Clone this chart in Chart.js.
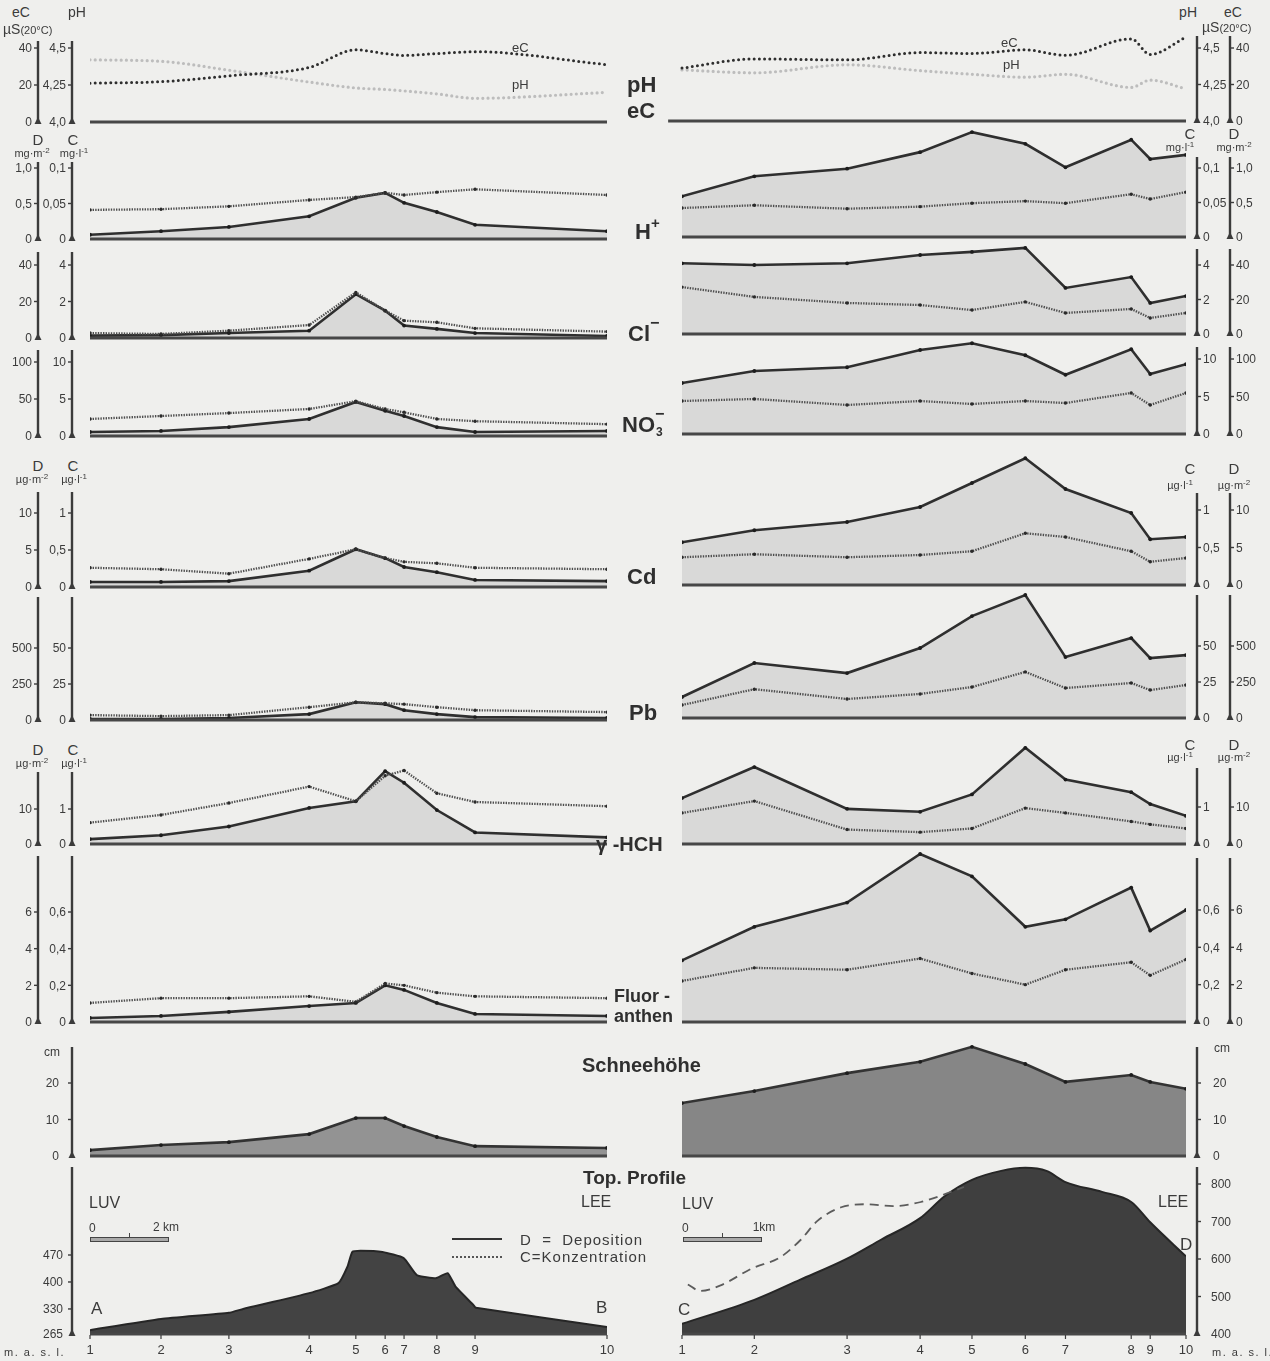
<!DOCTYPE html>
<html lang="de">
<head>
<meta charset="utf-8">
<title>Schneeprofile A–B und C–D</title>
<script src="https://cdn.jsdelivr.net/npm/chart.js@4.4.1/dist/chart.umd.min.js"></script>
<style>
  html, body { margin: 0; padding: 0; background: #efefed; }
  #page { position: relative; width: 1270px; height: 1361px; overflow: hidden;
          font-family: "Liberation Sans", Arial, Helvetica, sans-serif; color: #3b3b3b; }
  #page canvas { position: absolute; }
  .t { position: absolute; white-space: nowrap; line-height: 1; }
  .b { font-weight: bold; color: #2f2f2f; }
  .rule { position: absolute; height: 0; }
</style>
</head>
<body>
<div id="page"></div>
<script>
// ---------- station positions along the two profiles (km from station 1) ----------
const stationsAB = [0, 1.84, 3.60, 5.68, 6.89, 7.65, 8.14, 8.99, 9.98, 13.40];
const stationsCD = [0, 0.99, 2.26, 3.26, 3.97, 4.70, 5.25, 6.15, 6.41, 6.90];
const stationLabels = ['1', '2', '3', '4', '5', '6', '7', '8', '9', '10'];

// ---------- electric conductivity (µS at 20 °C) and pH ----------
const ecAB = [21, 21.8, 25, 29.5, 39, 37, 36, 37, 38, 31];
const phAB = [4.42, 4.41, 4.35, 4.27, 4.23, 4.22, 4.21, 4.19, 4.16, 4.20];
const ecCD = [29, 34, 33.5, 37.5, 37, 39, 36, 45, 36.5, 46];
const phCD = [4.35, 4.33, 4.385, 4.345, 4.32, 4.30, 4.32, 4.23, 4.28, 4.22];

// ---------- H+ : deposition mg/m², concentration mg/l ----------
const hDepAB  = [0.06, 0.11, 0.17, 0.32, 0.58, 0.65, 0.51, 0.38, 0.20, 0.11];
const hConcAB = [0.041, 0.042, 0.046, 0.055, 0.059, 0.065, 0.062, 0.066, 0.070, 0.062];
const hDepCD  = [0.59, 0.88, 0.99, 1.23, 1.52, 1.35, 1.01, 1.41, 1.13, 1.19];
const hConcCD = [0.042, 0.046, 0.041, 0.044, 0.049, 0.052, 0.049, 0.062, 0.055, 0.065];

// ---------- Cl- ----------
const clDepAB  = [1.3, 1.6, 2.7, 4.0, 24, 15, 6.8, 5.0, 2.7, 1.1];
const clConcAB = [0.27, 0.22, 0.40, 0.71, 2.5, 1.5, 0.95, 0.86, 0.53, 0.35];
const clDepCD  = [41, 40, 41, 45.8, 47.6, 49.9, 26.7, 33, 18, 22];
const clConcCD = [2.72, 2.15, 1.80, 1.68, 1.39, 1.86, 1.22, 1.45, 0.93, 1.22];

// ---------- NO3- ----------
const no3DepAB  = [5.4, 6.8, 12, 23, 46, 34, 27, 12, 5.4, 6.8];
const no3ConcAB = [2.3, 2.7, 3.1, 3.65, 4.7, 3.65, 3.2, 2.3, 2.0, 1.6];
const no3DepCD  = [68, 84, 89, 112, 121, 105, 79, 113, 80, 93];
const no3ConcCD = [4.4, 4.67, 3.87, 4.4, 4.0, 4.4, 4.13, 5.47, 3.87, 5.47];

// ---------- Cd : µg/m², µg/l ----------
const cdDepAB  = [0.68, 0.68, 0.80, 2.2, 5.1, 3.9, 2.7, 2.0, 0.95, 0.80];
const cdConcAB = [0.26, 0.24, 0.18, 0.38, 0.51, 0.39, 0.34, 0.32, 0.26, 0.24];
const cdDepCD  = [5.7, 7.3, 8.4, 10.4, 13.6, 16.9, 12.8, 9.6, 6.1, 6.4];
const cdConcCD = [0.37, 0.41, 0.37, 0.40, 0.45, 0.69, 0.64, 0.45, 0.31, 0.36];

// ---------- Pb ----------
const pbDepAB  = [7, 7, 14, 41, 123, 110, 68, 41, 20, 14];
const pbConcAB = [3.4, 2.7, 3.4, 8.9, 12.3, 11.6, 11, 8.9, 6.8, 5.5];
const pbDepCD  = [146, 382, 312, 486, 708, 854, 423, 555, 416, 437];
const pbConcCD = [9.0, 20, 13.2, 16.7, 21.5, 32, 20.8, 24.3, 19.4, 22.9];

// ---------- gamma-HCH ----------
const hchDepAB  = [1.4, 2.5, 5.0, 10.3, 12.2, 20.8, 17.5, 9.7, 3.3, 1.9];
const hchConcAB = [0.61, 0.83, 1.17, 1.64, 1.22, 1.95, 2.10, 1.45, 1.20, 1.08];
const hchDepCD  = [12.4, 20.8, 9.5, 8.7, 13.4, 26, 17.4, 14, 10.8, 7.6];
const hchConcCD = [0.84, 1.16, 0.39, 0.32, 0.42, 0.97, 0.84, 0.61, 0.53, 0.42];

// ---------- Fluoranthen ----------
const fluDepAB  = [0.22, 0.33, 0.55, 0.87, 1.04, 2.0, 1.75, 1.04, 0.44, 0.33];
const fluConcAB = [0.104, 0.13, 0.13, 0.14, 0.11, 0.21, 0.20, 0.16, 0.14, 0.13];
const fluDepCD  = [3.3, 5.1, 6.4, 9.0, 7.8, 5.1, 5.5, 7.2, 4.9, 6.0];
const fluConcCD = [0.22, 0.29, 0.28, 0.34, 0.26, 0.20, 0.28, 0.32, 0.25, 0.335];

// ---------- snow depth (cm) ----------
const snowAB = [1.6, 3.0, 3.8, 6.0, 10.4, 10.4, 8.2, 5.2, 2.7, 2.2];
const snowCD = [14.5, 17.8, 22.7, 25.8, 29.9, 25.2, 20.3, 22.2, 20.3, 18.4];

// ---------- topographic profiles (km, m a.s.l.) ----------
const reliefKmAB = [0, 1.84, 3.60, 3.97, 5.68, 6.44, 6.67, 6.80, 7.01, 7.58, 8.13, 8.47, 8.98, 9.27, 9.48, 9.94, 10.0, 13.40];
const reliefAB   = [275, 304, 320, 330, 371, 397, 439, 478, 481, 478, 462, 418, 410, 423, 387, 340, 333, 283];
const reliefKmCD = [0, 0.99, 1.62, 2.26, 2.73, 3.26, 3.60, 3.97, 4.37, 4.70, 4.99, 5.25, 5.75, 6.15, 6.41, 6.90];
const reliefCD   = [427, 491, 545, 601, 652, 709, 768, 811, 835, 843, 835, 805, 779, 752, 698, 607];
const ridgeKmCD  = [0.08, 0.25, 0.52, 0.96, 1.34, 1.63, 1.85, 2.18, 2.51, 2.89, 3.27, 3.71, 3.86];
const ridgeCD    = [532, 515, 529, 575, 604, 652, 701, 738, 746, 741, 752, 781, 792];

// ---------- axis ticks and their labels ----------
const ecTicks = [0, 20, 40],            ecLabels = ['0', '20', '40'];
const phTicks = [4.0, 4.25, 4.5],       phLabels = ['4,0', '4,25', '4,5'];
const hDepTicks = [0, 0.5, 1.0],        hDepLabels = ['0', '0,5', '1,0'];
const hConcTicks = [0, 0.05, 0.1],      hConcLabels = ['0', '0,05', '0,1'];
const clDepTicks = [0, 20, 40],         clDepLabels = ['0', '20', '40'];
const clConcTicks = [0, 2, 4],          clConcLabels = ['0', '2', '4'];
const no3DepTicks = [0, 50, 100],       no3DepLabels = ['0', '50', '100'];
const no3ConcTicks = [0, 5, 10],        no3ConcLabels = ['0', '5', '10'];
const cdDepTicks = [0, 5, 10],          cdDepLabels = ['0', '5', '10'];
const cdConcTicks = [0, 0.5, 1],        cdConcLabels = ['0', '0,5', '1'];
const pbDepTicks = [0, 250, 500],       pbDepLabels = ['0', '250', '500'];
const pbConcTicks = [0, 25, 50],        pbConcLabels = ['0', '25', '50'];
const hchDepTicks = [0, 10],            hchDepLabels = ['0', '10'];
const hchConcTicks = [0, 1],            hchConcLabels = ['0', '1'];
const fluDepTicks = [0, 2, 4, 6],       fluDepLabels = ['0', '2', '4', '6'];
const fluConcTicks = [0, 0.2, 0.4, 0.6], fluConcLabels = ['0', '0,2', '0,4', '0,6'];
const snowTicks = [0, 10, 20],          snowLabels = ['0', '10', '20'];
const reliefTicksAB = [265, 330, 400, 470], reliefLabelsAB = ['265', '330', '400', '470'];
const reliefTicksCD = [400, 500, 600, 700, 800], reliefLabelsCD = ['400', '500', '600', '700', '800'];

// ---------- page layout ----------
const page = document.getElementById('page');
const FONT = '"Liberation Sans", Arial, Helvetica, sans-serif';
const INK = '#3b3b3b';

const COLS = {
  AB: { left: 0,   width: 622, x0: 90,  x1: 607,  inner: 72,   outer: 38,   dir: -1, stations: stationsAB },
  CD: { left: 648, width: 622, x0: 682, x1: 1186, inner: 1197, outer: 1230, dir: 1,  stations: stationsCD }
};

const STYLE = {
  base:   { borderColor: '#474747', borderWidth: 3, pointRadius: 0, fill: false, clip: 4 },
  dep:    { borderColor: '#2f2f2f', borderWidth: 2.6, pointRadius: 1.9, pointBackgroundColor: '#1c1c1c',
            pointBorderWidth: 0, fill: 'start', backgroundColor: '#d9d9d8', tension: 0 },
  conc:   { borderColor: '#4e4e4e', borderWidth: 2.3, borderDash: [1.4, 1.2], pointRadius: 1.7,
            pointBackgroundColor: '#2a2a2a', pointBorderWidth: 0, fill: false, tension: 0 },
  ec:     { borderColor: '#2e2e2e', borderWidth: 3, borderDash: [0, 5.2], borderCapStyle: 'round',
            pointRadius: 0, fill: false, cubicInterpolationMode: 'monotone' },
  ph:     { borderColor: '#bdbdbd', borderWidth: 3.2, borderDash: [0, 5.2], borderCapStyle: 'round',
            pointRadius: 0, fill: false, cubicInterpolationMode: 'monotone' },
  snow:   { borderColor: '#333333', borderWidth: 2.6, pointRadius: 1.9, pointBackgroundColor: '#1c1c1c',
            pointBorderWidth: 0, fill: 'start', backgroundColor: '#939393', tension: 0 },
  snowDeep: { borderColor: '#333333', borderWidth: 2.6, pointRadius: 1.9, pointBackgroundColor: '#1c1c1c',
            pointBorderWidth: 0, fill: 'start', backgroundColor: '#868686', tension: 0 },
  relief: { borderColor: '#262626', borderWidth: 2, pointRadius: 0, fill: 'start',
            backgroundColor: '#434343', tension: 0.15 },
  reliefSmooth: { borderColor: '#262626', borderWidth: 2, pointRadius: 0, fill: 'start',
            backgroundColor: '#3f3f3f', cubicInterpolationMode: 'monotone' },
  ridge:  { borderColor: '#5c5c5c', borderWidth: 1.8, borderDash: [9, 6], pointRadius: 0, fill: false,
            cubicInterpolationMode: 'monotone' }
};

function series(axis, values, style, xs) { return { axis, values, style, xs }; }

// axis lines, tick marks, tick labels and station numbers, placed through the chart scales
function axesPlugin(col, spec, top) {
  return {
    id: 'profileAxes',
    afterDraw(chart) {
      const ctx = chart.ctx;
      const d = col.dir;
      spec.axes.forEach(a => {
        const sc = chart.scales[a.id];
        const x = (a.pos === 'outer' ? col.outer : col.inner) - col.left;
        const y0 = sc.getPixelForValue(a.ticks[0]);
        ctx.save();
        ctx.strokeStyle = INK; ctx.fillStyle = INK;
        ctx.lineWidth = 2.4;
        ctx.beginPath(); ctx.moveTo(x, y0 + 1); ctx.lineTo(x, a.topY - top); ctx.stroke();
        ctx.beginPath(); ctx.moveTo(x - 3.5, y0 + 2); ctx.lineTo(x + 3.5, y0 + 2); ctx.lineTo(x, y0 - 5);
        ctx.closePath(); ctx.fill();
        ctx.lineWidth = 1.4;
        ctx.font = '12px ' + FONT;
        ctx.textAlign = d < 0 ? 'right' : 'left';
        ctx.textBaseline = 'middle';
        a.ticks.forEach((v, i) => {
          const y = sc.getPixelForValue(v);
          if (i > 0) { ctx.beginPath(); ctx.moveTo(x, y); ctx.lineTo(x + d * 4, y); ctx.stroke(); }
          ctx.fillText(a.labels[i], x + d * (a.gap || 6), y + 1);
        });
        ctx.restore();
      });
      if (spec.stationRow) {
        const xs = chart.scales.x;
        const a = spec.axes[0];
        const yb = chart.scales[a.id].getPixelForValue(a.ticks[0]);
        ctx.save();
        ctx.strokeStyle = INK; ctx.fillStyle = INK; ctx.lineWidth = 1.2;
        ctx.font = '13px ' + FONT; ctx.textAlign = 'center'; ctx.textBaseline = 'alphabetic';
        col.stations.forEach((v, i) => {
          const x = xs.getPixelForValue(v);
          ctx.beginPath(); ctx.moveTo(x, yb + 1); ctx.lineTo(x, yb + 5); ctx.stroke();
          ctx.fillText(stationLabels[i], x, spec.stationRow - top);
        });
        ctx.restore();
      }
    }
  };
}

function panel(colKey, spec) {
  const col = COLS[colKey];
  const st = col.stations;
  const top = Math.floor(Math.min(spec.areaTop, ...spec.axes.map(a => a.topY))) - 6;
  const bottom = spec.base + (spec.room || 8);
  const cv = document.createElement('canvas');
  cv.width = col.width;
  cv.height = bottom - top;
  cv.style.left = col.left + 'px';
  cv.style.top = top + 'px';
  page.appendChild(cv);

  const areaH = spec.base - spec.areaTop;
  const scales = { x: { type: 'linear', display: false, min: st[0], max: st[st.length - 1] } };
  spec.axes.forEach(a => {
    const lo = a.ticks[0], hi = a.ticks[a.ticks.length - 1];
    const pxPerUnit = (spec.base - a.refY) / (hi - lo);
    scales[a.id] = { type: 'linear', display: false, min: lo, max: lo + areaH / pxPerUnit };
  });

  const baseAxis = spec.axes[0];
  const x0 = spec.baseFrom !== undefined ? spec.baseFrom : st[0];
  const datasets = [Object.assign({
    data: [{ x: x0, y: baseAxis.ticks[0] }, { x: st[st.length - 1], y: baseAxis.ticks[0] }],
    yAxisID: baseAxis.id
  }, STYLE.base)];
  spec.series.forEach(s => {
    const xs = s.xs || st;
    datasets.push(Object.assign({
      data: xs.map((x, i) => ({ x, y: s.values[i] })),
      yAxisID: s.axis
    }, s.style));
  });

  const xMin = Math.min(st[0], x0);
  const pxPerKm = (col.x1 - col.x0) / (st[st.length - 1] - st[0]);
  const x0px = col.x0 - (st[0] - xMin) * pxPerKm;
  scales.x.min = xMin;

  new Chart(cv, {
    type: 'line',
    data: { datasets },
    options: {
      responsive: false, animation: false, devicePixelRatio: 1, events: [],
      layout: { padding: { left: x0px - col.left, right: col.left + col.width - col.x1,
                           top: spec.areaTop - top, bottom: bottom - spec.base } },
      scales,
      plugins: { legend: { display: false }, tooltip: { enabled: false }, title: { display: false } }
    },
    plugins: [axesPlugin(col, spec, top)]
  });
}

// one substance: deposition (solid, shaded) and concentration (dotted) on paired axes
function substance(colKey, g, dep, conc, dT, dL, cT, cL) {
  panel(colKey, {
    base: g.base, areaTop: g.areaTop,
    axes: [
      { id: 'yD', pos: 'outer', ticks: dT, labels: dL, refY: g.refY, topY: g.topY },
      { id: 'yC', pos: 'inner', ticks: cT, labels: cL, refY: g.refY, topY: g.topY }
    ],
    series: [series('yC', conc, STYLE.conc), series('yD', dep, STYLE.dep)]
  });
}

// ---------- row 1: pH and conductivity ----------
panel('AB', { base: 122, areaTop: 42, axes: [
    { id: 'yEC', pos: 'outer', ticks: ecTicks, labels: ecLabels, refY: 48, topY: 41 },
    { id: 'yPH', pos: 'inner', ticks: phTicks, labels: phLabels, refY: 48, topY: 41 }],
  series: [series('yEC', ecAB, STYLE.ec), series('yPH', phAB, STYLE.ph)] });
panel('CD', { base: 121, areaTop: 32, baseFrom: -0.19, axes: [
    { id: 'yEC', pos: 'outer', ticks: ecTicks, labels: ecLabels, refY: 48, topY: 36 },
    { id: 'yPH', pos: 'inner', ticks: phTicks, labels: phLabels, refY: 48, topY: 36 }],
  series: [series('yEC', ecCD, STYLE.ec), series('yPH', phCD, STYLE.ph)] });

// ---------- rows 2–8: substances ----------
substance('AB', { base: 239, areaTop: 160, refY: 168, topY: 162 }, hDepAB, hConcAB, hDepTicks, hDepLabels, hConcTicks, hConcLabels);
substance('CD', { base: 237, areaTop: 126, refY: 168, topY: 157 }, hDepCD, hConcCD, hDepTicks, hDepLabels, hConcTicks, hConcLabels);
substance('AB', { base: 338, areaTop: 252, refY: 265, topY: 252 }, clDepAB, clConcAB, clDepTicks, clDepLabels, clConcTicks, clConcLabels);
substance('CD', { base: 334, areaTop: 242, refY: 265, topY: 249 }, clDepCD, clConcCD, clDepTicks, clDepLabels, clConcTicks, clConcLabels);
substance('AB', { base: 436, areaTop: 348, refY: 362, topY: 350 }, no3DepAB, no3ConcAB, no3DepTicks, no3DepLabels, no3ConcTicks, no3ConcLabels);
substance('CD', { base: 434, areaTop: 338, refY: 359, topY: 347 }, no3DepCD, no3ConcCD, no3DepTicks, no3DepLabels, no3ConcTicks, no3ConcLabels);
substance('AB', { base: 587, areaTop: 490, refY: 513, topY: 492 }, cdDepAB, cdConcAB, cdDepTicks, cdDepLabels, cdConcTicks, cdConcLabels);
substance('CD', { base: 585, areaTop: 450, refY: 510, topY: 493 }, cdDepCD, cdConcCD, cdDepTicks, cdDepLabels, cdConcTicks, cdConcLabels);
substance('AB', { base: 720, areaTop: 595, refY: 648, topY: 597 }, pbDepAB, pbConcAB, pbDepTicks, pbDepLabels, pbConcTicks, pbConcLabels);
substance('CD', { base: 718, areaTop: 588, refY: 646, topY: 595 }, pbDepCD, pbConcCD, pbDepTicks, pbDepLabels, pbConcTicks, pbConcLabels);
substance('AB', { base: 844, areaTop: 766, refY: 809, topY: 772 }, hchDepAB, hchConcAB, hchDepTicks, hchDepLabels, hchConcTicks, hchConcLabels);
substance('CD', { base: 844, areaTop: 740, refY: 807, topY: 768 }, hchDepCD, hchConcCD, hchDepTicks, hchDepLabels, hchConcTicks, hchConcLabels);
substance('AB', { base: 1022, areaTop: 850, refY: 912, topY: 856 }, fluDepAB, fluConcAB, fluDepTicks, fluDepLabels, fluConcTicks, fluConcLabels);
substance('CD', { base: 1022, areaTop: 848, refY: 910, topY: 858 }, fluDepCD, fluConcCD, fluDepTicks, fluDepLabels, fluConcTicks, fluConcLabels);

// ---------- row 9: snow depth ----------
panel('AB', { base: 1156, areaTop: 1042, axes: [
    { id: 'yS', pos: 'inner', ticks: snowTicks, labels: snowLabels, refY: 1083, topY: 1047, gap: 13 }],
  series: [series('yS', snowAB, STYLE.snow)] });
panel('CD', { base: 1156, areaTop: 1040, axes: [
    { id: 'yS', pos: 'inner', ticks: snowTicks, labels: snowLabels, refY: 1083, topY: 1047, gap: 16 }],
  series: [series('yS', snowCD, STYLE.snowDeep)] });

// ---------- row 10: topographic profiles ----------
panel('AB', { base: 1334, areaTop: 1165, room: 26, stationRow: 1354, axes: [
    { id: 'yR', pos: 'inner', ticks: reliefTicksAB, labels: reliefLabelsAB, refY: 1255, topY: 1167, gap: 9 }],
  series: [series('yR', reliefAB, STYLE.relief, reliefKmAB)] });
panel('CD', { base: 1334, areaTop: 1160, room: 26, stationRow: 1354, axes: [
    { id: 'yR', pos: 'inner', ticks: reliefTicksCD, labels: reliefLabelsCD, refY: 1184, topY: 1167, gap: 14 }],
  series: [series('yR', ridgeCD, STYLE.ridge, ridgeKmCD), series('yR', reliefCD, STYLE.reliefSmooth, reliefKmCD)] });

// ---------- text ----------
function txt(html, x, base, size, opt = {}) {
  const d = document.createElement('div');
  d.className = 't' + (opt.bold ? ' b' : '');
  d.innerHTML = html;
  d.style.fontSize = size + 'px';
  d.style.left = x + 'px';
  d.style.top = (base - 0.8465 * size).toFixed(1) + 'px';
  if (opt.align === 'center') d.style.transform = 'translateX(-50%)';
  if (opt.align === 'right') d.style.transform = 'translateX(-100%)';
  if (opt.ls) d.style.letterSpacing = opt.ls + 'px';
  page.appendChild(d);
  return d;
}
const shift = (s, dy, size) => `<span style="position:relative;top:${dy}px;font-size:${size}px">${s}</span>`;
const unit = (a, b) => a + shift(b, -4, 8);
const C = { align: 'center' };

// headers of the left axes
txt('eC', 21, 17, 14, C);
txt('µS' + shift('(20°C)', 0, 11), 3, 34, 14);
txt('pH', 68, 17, 14);
txt('D', 38, 145, 15, C); txt('C', 73, 145, 15, C);
txt(unit('mg·m', '-2'), 32, 157, 11, C); txt(unit('mg·l', '-1'), 74, 157, 11, C);
txt('D', 38, 471, 15, C); txt('C', 73, 471, 15, C);
txt(unit('µg·m', '-2'), 32, 483, 11, C); txt(unit('µg·l', '-1'), 74, 483, 11, C);
txt('D', 38, 755, 15, C); txt('C', 73, 755, 15, C);
txt(unit('µg·m', '-2'), 32, 767, 11, C); txt(unit('µg·l', '-1'), 74, 767, 11, C);
txt('cm', 52, 1056, 12, C);

// headers of the right axes
txt('pH', 1197, 17, 14, { align: 'right' });
txt('eC', 1233, 17, 14, C);
txt('µS' + shift('(20°C)', 0, 11), 1202, 32, 14);
txt('C', 1190, 139, 15, C); txt('D', 1234, 139, 15, C);
txt(unit('mg·l', '-1'), 1180, 151, 11, C); txt(unit('mg·m', '-2'), 1234, 151, 11, C);
txt('C', 1190, 474, 15, C); txt('D', 1234, 474, 15, C);
txt(unit('µg·l', '-1'), 1180, 489, 11, C); txt(unit('µg·m', '-2'), 1234, 489, 11, C);
txt('C', 1190, 750, 15, C); txt('D', 1234, 750, 15, C);
txt(unit('µg·l', '-1'), 1180, 761, 11, C); txt(unit('µg·m', '-2'), 1234, 761, 11, C);
txt('cm', 1222, 1052, 12, C);

// curve names inside the first row
txt('eC', 512, 52, 13); txt('pH', 512, 89, 13);
txt('eC', 1001, 47, 13); txt('pH', 1003, 69, 13);

// parameter names between the columns
const B = { bold: true };
txt('pH', 627, 93, 22, B);
txt('eC', 627, 119, 22, B);
txt('H' + shift('+', -11, 15), 635, 240, 22, B);
txt('Cl' + shift('−', -13, 16), 628, 342, 22, B);
txt('NO<span style="position:relative;display:inline-block;width:12px">' +
    '<span style="position:absolute;left:0;top:-26px;font-size:16px">−</span>' +
    '<span style="position:absolute;left:1px;top:-6px;font-size:12px">3</span></span>', 622, 433, 22, B);
txt('Cd', 627, 585, 22, B);
txt('Pb', 629, 721, 22, B);
txt('γ&nbsp;-HCH', 596, 851, 20, B);
txt('Fluor -', 614, 1002, 18, B);
txt('anthen', 614, 1022, 18, B);
txt('Schneehöhe', 582, 1072, 20, B);
txt('Top. Profile', 583, 1184, 19, B);

// profile annotations
txt('LUV', 89, 1208, 16); txt('LEE', 581, 1207, 16);
txt('A', 91, 1314, 17); txt('B', 596, 1313, 17);
txt('LUV', 682, 1209, 16); txt('LEE', 1158, 1207, 16);
txt('C', 678, 1315, 17); txt('D', 1180, 1250, 17);
txt('m. a. s. l.', 4, 1356, 11, { ls: 1.5 });
txt('m. a. s. l.', 1212, 1356, 11, { ls: 1.5 });

// scale bars
function scaleBar(x, w, label) {
  const bar = document.createElement('div');
  bar.style.cssText = `position:absolute;left:${x}px;top:1237px;width:${w}px;height:3px;border:1px solid #444;background:#a9a9a9`;
  page.appendChild(bar);
  const tick = document.createElement('div');
  tick.style.cssText = `position:absolute;left:${x + w / 2}px;top:1233px;width:1.5px;height:5px;background:#444`;
  page.appendChild(tick);
  txt('0', x - 1, 1232, 12);
  txt(label, x + w - 14, 1231, 12);
}
scaleBar(90, 77, '2 km');
scaleBar(683, 77, '&nbsp;&nbsp;1km');

// key
function keyLine(y, style) {
  const l = document.createElement('div');
  l.className = 'rule';
  l.style.cssText += `left:452px;top:${y}px;width:50px;border-top:${style}`;
  page.appendChild(l);
}
keyLine(1238, '2.5px solid #333');
keyLine(1256, '2px dotted #555');
txt('D&nbsp;&nbsp;=&nbsp;&nbsp;Deposition', 520, 1245, 15, { ls: 1 });
txt('C=Konzentration', 520, 1262, 15, { ls: 1 });
</script>
</body>
</html>
